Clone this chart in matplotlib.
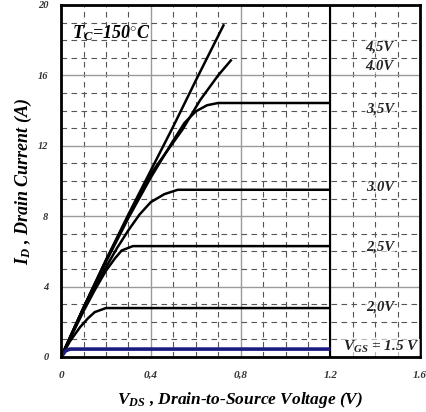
import matplotlib
matplotlib.use("Agg")
import matplotlib.pyplot as plt
from matplotlib.ticker import MultipleLocator

plt.rcParams["mathtext.fontset"] = "custom"
plt.rcParams["mathtext.it"] = "Liberation Serif:bold:italic"
plt.rcParams["mathtext.bf"] = "Liberation Serif:bold:italic"
plt.rcParams["mathtext.rm"] = "Liberation Serif:bold:italic"
plt.rcParams["mathtext.default"] = "it"

# output characteristics, T_C = 150 C
vds_45 = [0, 0.1, 0.2, 0.3, 0.4, 0.5, 0.6, 0.726]
id_45  = [0, 2.8, 5.5, 8.1, 10.6, 13.1, 15.7, 18.9]

vds_40 = [0, 0.1, 0.2, 0.3, 0.4, 0.45, 0.54, 0.62, 0.70, 0.76]
id_40  = [0, 2.8, 5.5, 8.0, 10.4, 11.3, 12.9, 14.6, 16.0, 16.9]

vds_35 = [0, 0.1, 0.2, 0.3, 0.4, 0.5, 0.55, 0.6, 0.65, 0.7, 1.2]
id_35  = [0, 2.8, 5.4, 7.9, 10.2, 12.3, 13.3, 13.95, 14.3, 14.43, 14.43]

vds_30 = [0, 0.1, 0.2, 0.25, 0.3, 0.35, 0.4, 0.46, 0.52, 1.2]
id_30  = [0, 2.7, 5.1, 6.2, 7.2, 8.1, 8.8, 9.25, 9.5, 9.5]

vds_25 = [0, 0.1, 0.15, 0.2, 0.24, 0.27, 0.32, 1.2]
id_25  = [0, 2.6, 3.8, 4.9, 5.6, 6.05, 6.3, 6.3]

vds_20 = [0, 0.04, 0.085, 0.12, 0.15, 0.2, 1.2]
id_20  = [0, 0.9, 1.7, 2.2, 2.55, 2.78, 2.78]

vds_15 = [0, 0.02, 0.04, 1.2]
id_15  = [0, 0.35, 0.45, 0.45]

curve_labels = ["4,5V", "4.0V", "3,5V", "3.0V", "2,5V", "2,0V"]
label_y = [17.6, 16.5, 14.1, 9.65, 6.25, 2.84]

xticks = [0, 0.4, 0.8, 1.2, 1.6]
xtick_labels = ["0", "0,4", "0,8", "1.2", "1.6"]
yticks = [0, 4, 8, 12, 16, 20]

font = dict(family="Liberation Serif", weight="bold", style="italic")

fig = plt.figure(figsize=(4.27, 4.12), dpi=100)
ax = fig.add_axes([0.143, 0.1335, 0.841, 0.8545])
ax.set_xlim(0, 1.6)
ax.set_ylim(0, 20)

# grid: solid grey on majors, dashed on minors
ax.xaxis.set_minor_locator(MultipleLocator(0.1))
ax.yaxis.set_minor_locator(MultipleLocator(1))
ax.set_xticks(xticks)
ax.set_yticks(yticks)
ax.grid(which="major", color="#9a9a9a", lw=1.0, ls="-")
ax.grid(which="minor", color="#555555", lw=0.8, ls=(0, (5, 4)))
ax.set_axisbelow(True)
ax.tick_params(which="both", length=0)
ax.set_xticklabels(xtick_labels, fontsize=8, color="#333333", **font)
ax.set_yticklabels([str(v) for v in yticks], fontsize=7.5, color="#333333", **font)
ax.tick_params(axis="x", pad=10)
ax.tick_params(axis="y", pad=9)
ax.axvline(1.2, color="black", lw=1.5)

for s in ax.spines.values():
    s.set_linewidth(2)
    s.set_color("black")

for vx, iy in [(vds_45, id_45), (vds_40, id_40), (vds_35, id_35),
               (vds_30, id_30), (vds_25, id_25), (vds_20, id_20)]:
    ax.plot(vx, iy, color="black", lw=1.8, solid_capstyle="butt")
ax.plot(vds_15, id_15, color="#1c1c80", lw=2.6, solid_capstyle="butt")

box = dict(facecolor="white", edgecolor="none", pad=0.5, alpha=0.6)
for lab, yy in zip(curve_labels, label_y):
    ax.text(1.42, yy, lab, fontsize=10.5, ha="center", va="center", color="#222222",
            bbox=box, **font)
ax.text(1.425, 0.55, "V$_{GS}$ = 1.5 V", fontsize=11, ha="center",
        va="center", color="#222222", bbox=box, **font)

ax.text(0.05, 18.4, "T$_{C}$=150$^{\\circ}$C", fontsize=13, ha="left",
        va="center", **font)

ax.set_xlabel("V$_{DS}$ , Drain-to-Source Voltage (V)", fontsize=12.5, labelpad=7, **font)
ax.set_ylabel("I$_{D}$ , Drain Current (A)", fontsize=13, labelpad=3, **font)

fig.savefig("out.png", dpi=100)
